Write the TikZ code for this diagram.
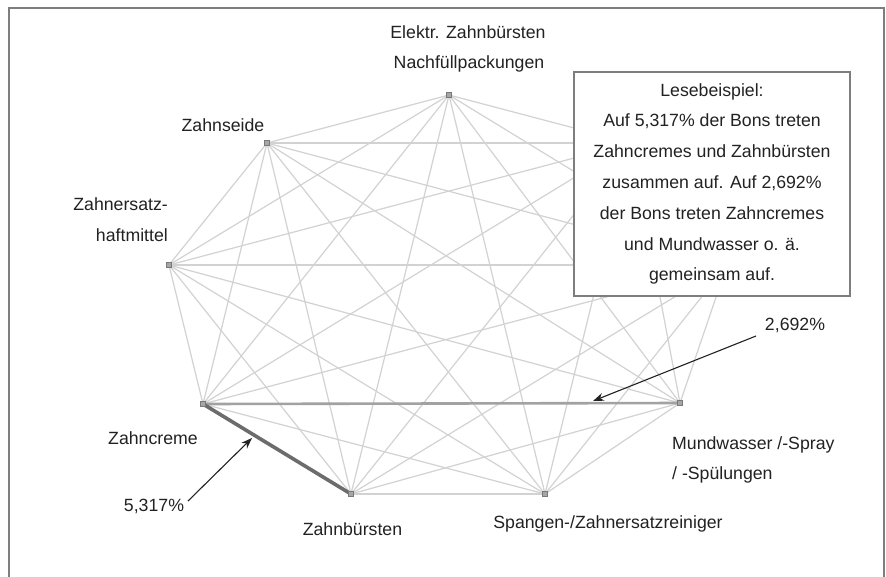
\documentclass[tikz,border=0pt]{standalone}
\usepackage{fontspec}
\setmainfont{Liberation Sans}
\usetikzlibrary{arrows.meta}
\definecolor{edgec}{HTML}{D2D2D2}
\definecolor{midc}{HTML}{A2A2A2}
\definecolor{darkc}{HTML}{6C6C6C}
\definecolor{framec}{HTML}{7E7E7E}
\definecolor{txtc}{HTML}{222222}
\begin{document}
\begin{tikzpicture}[x=1pt,y=-1pt,
  lbl/.style={font=\fontsize{17.7}{30.8}\selectfont, text=txtc, inner sep=0pt},
  edge/.style={draw=edgec, line width=1.2pt},
  vtx/.style={draw=gray!95!black, fill=gray!70, line width=0.7pt, minimum size=5pt, inner sep=0pt, rectangle},
  ptr/.style={draw=txtc, line width=1.1pt, -{Stealth[length=11pt,width=8pt,inset=3.5pt]}},
  lesebox/.style={draw=framec, fill=white, line width=1.2pt, minimum width=276pt, minimum height=224pt, align=center, inner sep=0pt, font=\fontsize{17.7}{30.8}\selectfont, text=txtc}
]
\useasboundingbox (0,0) rectangle (886,576);
\fill[white] (0,0) rectangle (886,576);
% frame
\draw[draw=framec, line width=1.8pt] (9,590) -- (9,8) -- (884,8) -- (884,590);

% vertices
\coordinate (E) at (449,95);
\coordinate (S) at (267,143);
\coordinate (H) at (169,265);
\coordinate (C) at (203,404);
\coordinate (B) at (351,494);
\coordinate (R) at (545,494);
\coordinate (M) at (680,403);
\coordinate (X1) at (631,143);
\coordinate (X2) at (727,265);

% complete graph
\foreach \a [count=\i] in {E,S,H,C,B,R,M,X1,X2}{
  \foreach \b [count=\j] in {E,S,H,C,B,R,M,X1,X2}{
    \ifnum\j>\i \draw[edge] (\a) -- (\b); \fi
  }
}
% highlighted edges
\draw[draw=midc, line width=2.6pt] (C) -- (M);
\draw[draw=darkc, line width=3.6pt] (C) -- (B);

% vertex markers
\foreach \v in {E,S,H,C,B,R,M,X1,X2}{
  \node[vtx] (v\v) at (\v) {};
}

% reading example box
\node[lesebox] (lese) at (712,184) {Lesebeispiel:\\Auf 5,317\% der Bons treten\\Zahncremes und Zahnbürsten\\zusammen auf. Auf 2,692\%\\der Bons treten Zahncremes\\und Mundwasser o. ä.\\gemeinsam auf.};

% labels
\node[lbl, anchor=base] (lE1) at (468,38) {Elektr. Zahnbürsten};
\node[lbl, anchor=base] (lE2) at (469,68) {Nachfüllpackungen};
\node[lbl, anchor=base] (lS) at (223,131) {Zahnseide};
\node[lbl, anchor=base east] (lH1) at (168,210) {Zahnersatz-};
\node[lbl, anchor=base east] (lH2) at (168,241) {haftmittel};
\node[lbl, anchor=base] (lC) at (153,444) {Zahncreme};
\node[lbl, anchor=base] (lB) at (352.5,535) {Zahnbürsten};
\node[lbl, anchor=base] (lR) at (608,528.5) {Spangen-/Zahnersatzreiniger};
\node[lbl, anchor=base west] (lM1) at (672,449) {Mundwasser /-Spray};
\node[lbl, anchor=base west] (lM2) at (672,479) {/ -Spülungen};

% percentage annotations
\node[lbl, anchor=base] (p2) at (795,330) {2,692\%};
\node[lbl, anchor=base] (p5) at (154,511) {5,317\%};
\coordinate (a2s) at (756,336);
\coordinate (a2e) at (593,401);
\coordinate (a5s) at (188,501);
\coordinate (a5e) at (252,438);
\draw[ptr] (a2s) -- (a2e);
\draw[ptr] (a5s) -- (a5e);
\end{tikzpicture}
\end{document}
